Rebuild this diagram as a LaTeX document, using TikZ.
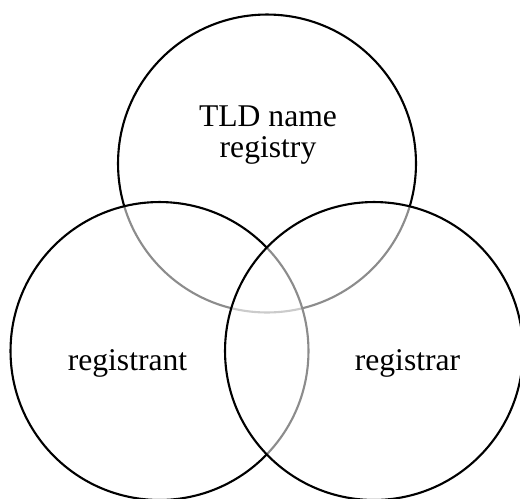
\documentclass[tikz,border=0pt]{standalone}
\usepackage{fontspec}
\setmainfont{Liberation Serif}
\usetikzlibrary{shapes}

\begin{document}
\begin{tikzpicture}[x=0.02cm,y=-0.02cm,
  party/.style={circle,draw=black,line width=1.2pt,fill=white,fill opacity=0.55,
    draw opacity=1,inner sep=0pt,minimum size=5.96cm},
  partyname/.style={anchor=base,align=center,inner sep=0pt,
    font=\fontsize{18}{17.4}\selectfont}]
\useasboundingbox (0,0) rectangle (520,498);
% the three circles, top one first
\node[party] (registry) at (267,163.5) {};
\node[party] (registrant) at (159.5,351) {};
\node[party] (registrar) at (374,351) {};
% the labels
\node[partyname] (registrytext) at (268,157.3) {TLD name\\registry};
\node[partyname] (registranttext) at (127.5,370.7) {registrant};
\node[partyname] (registrartext) at (407.5,370.7) {registrar};
\end{tikzpicture}
\end{document}
